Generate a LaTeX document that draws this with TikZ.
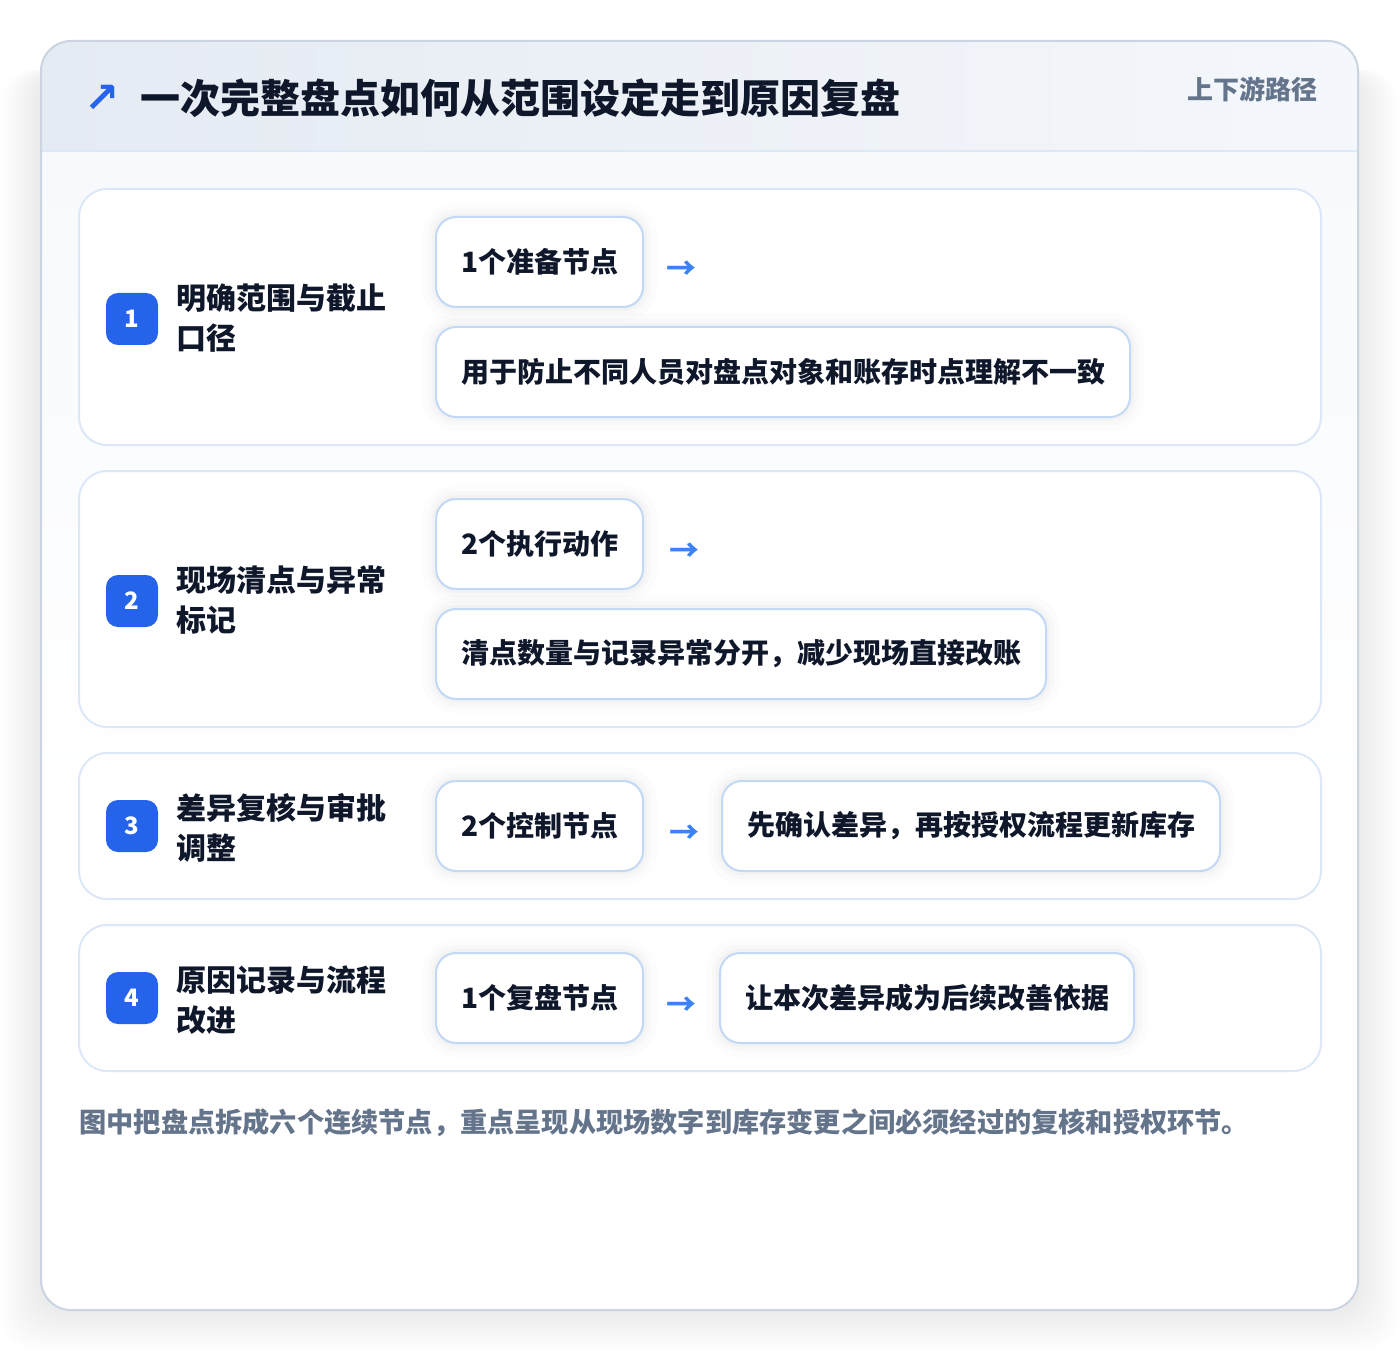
\documentclass[tikz,border=0pt]{standalone}
\usepackage{fontspec}
\setmainfont{Noto Sans CJK SC}
\newfontfamily\symfont{DejaVu Sans}
\usetikzlibrary{positioning}
\definecolor{ink}{HTML}{0F172A}
\definecolor{slate}{HTML}{64748B}
\definecolor{brand}{HTML}{2563EB}
\definecolor{arrowblue}{HTML}{3B82F6}
\definecolor{cardline}{HTML}{CBD5E1}
\definecolor{rowline}{HTML}{DCE7F7}
\definecolor{pillline}{HTML}{C3D8F5}
\definecolor{headl}{HTML}{E5EBF3}
\definecolor{headr}{HTML}{F4F7FB}
\definecolor{bodytop}{HTML}{F7F9FC}

\begin{document}
\begin{tikzpicture}[x=0.5pt,y=-0.5pt,
  rowcard/.style={draw=rowline,line width=1pt,fill=white,rounded corners=14pt},
  pill/.style={draw=pillline,line width=1pt,fill=white,rounded corners=10pt,
    minimum height=45pt,inner xsep=12.5pt,anchor=west,text=ink,
    font=\fontsize{14}{16}\selectfont\bfseries,
    preaction={draw=black,draw opacity=0.012,line width=14pt},
    preaction={draw=black,draw opacity=0.015,line width=8pt},
    preaction={draw=black,draw opacity=0.02,line width=4pt}},
  badge/.style={fill=brand,rounded corners=6pt,minimum size=26pt,inner sep=0pt,
    text=white,font=\fontsize{12}{12}\selectfont\bfseries},
  stepname/.style={anchor=west,align=left,inner sep=0pt,text=ink,
    font=\fontsize{15}{20}\selectfont\bfseries},
  flowarrow/.style={inner sep=0pt,text=arrowblue,font=\fontsize{15}{16}\selectfont\bfseries}]
   \useasboundingbox[fill=white] (0,0) rectangle (1400,1352);
   % soft shadow under the card
   \foreach \s in {2,4,...,40}
     \fill[black,opacity=0.005,rounded corners=16pt] (41-\s,70) rectangle (1358+\s,1310+\s);
   \fill[white,rounded corners=15pt] (41,41) rectangle (1358,1310);
   \begin{scope}
     \clip[rounded corners=15pt] (41,41) rectangle (1358,1310);
     \shade[left color=headl,right color=headr] (41,41) rectangle (1358,151);
     \shade[top color=bodytop,bottom color=white] (41,151) rectangle (1358,800);
   \end{scope}
   \draw[rowline,line width=1pt] (41,151) -- (1358,151);
   \draw[cardline,line width=1pt,rounded corners=15pt] (41,41) rectangle (1358,1310);
   % header
   \node[inner sep=0pt,text=brand,font=\symfont\fontsize{21}{21}\selectfont\bfseries] (icon) at (102,99) {↗};
   \node[anchor=west,inner sep=0pt,text=ink,font=\fontsize{20}{24}\selectfont\bfseries] (title) at (140,98) {一次完整盘点如何从范围设定走到原因复盘};
   \node[anchor=east,inner sep=0pt,text=slate,font=\fontsize{13}{14}\selectfont\bfseries] (route) at (1318,89) {上下游路径};
   % row cards
   \draw[rowcard] (79,189) rectangle (1321,445);
   \draw[rowcard] (79,471) rectangle (1321,727);
   \draw[rowcard] (79,753) rectangle (1321,899);
   \draw[rowcard] (79,925) rectangle (1321,1071);
   % step 1
   \node[badge] (b1) at (132,319) {1};
   \node[stepname] (s1) at (176,318) {明确范围与截止\\口径};
   \node[pill] (p1a) at (435,262) {1个准备节点};
   \node[flowarrow] (a1) at (681,270) {→};
   \node[pill] (p1b) at (435,372) {用于防止不同人员对盘点对象和账存时点理解不一致};
   % step 2
   \node[badge] (b2) at (132,601) {2};
   \node[stepname] (s2) at (176,600) {现场清点与异常\\标记};
   \node[pill] (p2a) at (435,544) {2个执行动作};
   \node[flowarrow] (a2) at (684,552) {→};
   \node[pill] (p2b) at (435,654) {清点数量与记录异常分开，减少现场直接改账};
   % step 3
   \node[badge] (b3) at (132,826) {3};
   \node[stepname] (s3) at (176,828) {差异复核与审批\\调整};
   \node[pill] (p3a) at (435,826) {2个控制节点};
   \node[flowarrow] (a3) at (684,834) {→};
   \node[pill] (p3b) at (721,826) {先确认差异，再按授权流程更新库存};
   % step 4
   \node[badge] (b4) at (132,998) {4};
   \node[stepname] (s4) at (176,1000) {原因记录与流程\\改进};
   \node[pill] (p4a) at (435,998) {1个复盘节点};
   \node[flowarrow] (a4) at (681,1006) {→};
   \node[pill] (p4b) at (719,998) {让本次差异成为后续改善依据};
   % caption
   \node[anchor=west,inner sep=0pt,text=slate,font=\fontsize{13.6}{16}\selectfont\bfseries] (note) at (79,1123) {图中把盘点拆成六个连续节点，重点呈现从现场数字到库存变更之间必须经过的复核和授权环节。};
\end{tikzpicture}
\end{document}
